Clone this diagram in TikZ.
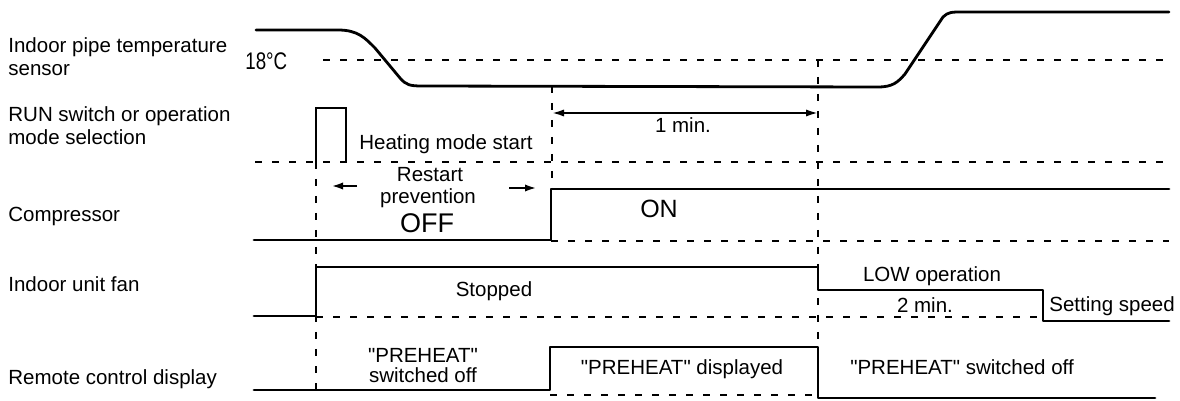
\documentclass[tikz,border=0pt]{standalone}
\usepackage{fontspec}
\setmainfont{Liberation Sans}[Ligatures=TeXOff]
\usetikzlibrary{arrows.meta}
\begin{document}
\begin{tikzpicture}[x=0.5pt,y=-0.5pt,
  sig/.style={line width=1.4pt, line join=round, line cap=round},
  pulse/.style={line width=1pt},
  dsh/.style={line width=0.9pt, dash pattern=on 3.5pt off 5pt},
  lbl/.style={font=\fontsize{10.25}{12}\selectfont, inner sep=0pt},
  bigtxt/.style={font=\fontsize{13.5}{15}\selectfont, inner sep=0pt},
  tip/.style={-{Latex[length=6pt,width=3.6pt]}, line width=1.2pt},
  dbl/.style={{Latex[length=6pt,width=3.6pt]}-{Latex[length=6pt,width=3.6pt]}, line width=1pt}]
\useasboundingbox (0,0) rectangle (1180,401);

% ---- row labels
\node[lbl,anchor=base west] (l1a) at (8,53) {Indoor pipe temperature};
\node[lbl,anchor=base west] (l1b) at (8,76) {sensor};
\node[lbl,anchor=base west] (l2a) at (8,122) {RUN switch or operation};
\node[lbl,anchor=base west] (l2b) at (8,145) {mode selection};
\node[lbl,anchor=base west] (l3) at (8,222) {Compressor};
\node[lbl,anchor=base west] (l4) at (8,292) {Indoor unit fan};
\node[lbl,anchor=base west] (l5) at (8,385) {Remote control display};

% ---- dashed reference lines
\draw[dsh] (323,60) -- (1169,60);
\draw[dsh] (255,162) -- (1169,162);
\draw[dsh] (551,241) -- (1169,241);
\draw[dsh] (316,317) -- (1043,317);
\draw[dsh] (550,395) -- (818,395);
% vertical dashed lines
\draw[dsh] (316,162) -- (316,390);
\draw[dsh] (552,86) -- (552,189);
\draw[dsh] (818,60) -- (818,398);

% ---- temperature sensor
\node[font=\fontsize{12}{14}\selectfont, inner sep=0pt, anchor=base west] (t18) at (245,70) {\scalebox{0.78}[1]{18°C}};
\draw[sig] (256,30) -- (338,30) .. controls (358,30) and (365,38) .. (375,48)
  -- (400,78) .. controls (406,85) and (410,86) .. (422,86) -- (878,87)
  .. controls (893,87) and (898,82) .. (905,74) -- (943,17)
  .. controls (948,12) and (952,12) .. (962,12) -- (1169,12);

% ---- RUN switch pulse
\draw[pulse] (316,162) -- (316,108) -- (346,108) -- (346,162);
\node[lbl,anchor=base west] (heat) at (359,150) {Heating mode start};
\coordinate (omA) at (552,113);
\coordinate (omB) at (818,113);
\draw[dbl] (omA) -- (omB);
\node[lbl,anchor=base] (onemin) at (683,133) {1 min.};

% ---- compressor
\draw[sig] (254,240) -- (551,240) -- (551,189) -- (1169,189);
\node[lbl,anchor=base] (rst1) at (430,182) {Restart};
\node[lbl,anchor=base] (rst2) at (428,204) {prevention};
\node[bigtxt,anchor=base] (off) at (427,233) {OFF};
\node[font=\fontsize{12.5}{14}\selectfont, inner sep=0pt, anchor=base] (on) at (659,218) {ON};
\coordinate (la1) at (357,186);
\coordinate (la2) at (331,186);
\coordinate (ra1) at (509,188);
\coordinate (ra2) at (537,188);
\draw[tip] (la1) -- (la2);
\draw[tip] (ra1) -- (ra2);

% ---- indoor unit fan
\draw[sig] (254,316) -- (316,316) -- (316,267) -- (818,267) -- (818,290)
  -- (1043,290) -- (1043,321) -- (1169,321);
\node[lbl,anchor=base] (stop) at (494,297) {Stopped};
\node[lbl,anchor=base] (low) at (932,282) {LOW operation};
\node[lbl,anchor=base] (twomin) at (925,313) {2 min.};
\node[lbl,anchor=base west] (setsp) at (1049,312) {Setting speed};

% ---- remote control display
\draw[sig] (254,390) -- (550,390) -- (550,347) -- (818,347) -- (818,398) -- (1155,398);
\node[lbl,anchor=base] (ph1) at (423,363) {"PREHEAT"};
\node[lbl,anchor=base] (ph2) at (423,382) {switched off};
\node[lbl,anchor=base] (ph3) at (682,374) {"PREHEAT" displayed};
\node[lbl,anchor=base] (ph4) at (962,374) {"PREHEAT" switched off};
\end{tikzpicture}
\end{document}
